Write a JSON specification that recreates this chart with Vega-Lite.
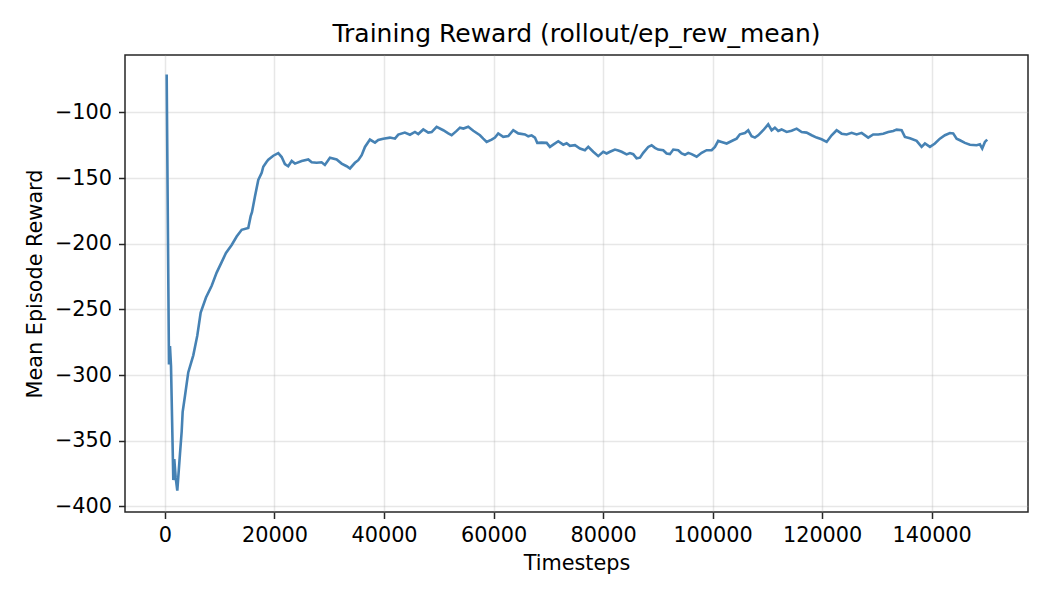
{
  "$schema": "https://vega.github.io/schema/vega-lite/v6.json",
  "autosize": "none",
  "width": 903,
  "height": 457,
  "padding": {"left": 125, "top": 55, "right": 22, "bottom": 88},
  "background": "white",
  "title": {
    "text": "Training Reward (rollout/ep_rew_mean)",
    "fontSize": 25,
    "fontWeight": "normal",
    "font": "DejaVu Sans",
    "color": "black",
    "offset": 8
  },
  "data": {
    "values": [
      {"timesteps": 310, "reward": -71.2},
      {"timesteps": 730, "reward": -292},
      {"timesteps": 910, "reward": -278},
      {"timesteps": 1100, "reward": -293},
      {"timesteps": 1520, "reward": -380},
      {"timesteps": 1700, "reward": -364},
      {"timesteps": 1950, "reward": -378},
      {"timesteps": 2250, "reward": -388},
      {"timesteps": 2740, "reward": -360},
      {"timesteps": 3050, "reward": -343},
      {"timesteps": 3230, "reward": -328},
      {"timesteps": 3650, "reward": -316},
      {"timesteps": 4250, "reward": -298},
      {"timesteps": 5170, "reward": -285},
      {"timesteps": 5900, "reward": -270},
      {"timesteps": 6520, "reward": -252.5},
      {"timesteps": 7490, "reward": -241},
      {"timesteps": 8530, "reward": -232},
      {"timesteps": 9440, "reward": -222},
      {"timesteps": 10350, "reward": -214},
      {"timesteps": 11140, "reward": -207},
      {"timesteps": 12180, "reward": -201},
      {"timesteps": 13090, "reward": -194.5},
      {"timesteps": 14010, "reward": -189.4},
      {"timesteps": 15210, "reward": -188},
      {"timesteps": 15650, "reward": -179},
      {"timesteps": 15890, "reward": -176},
      {"timesteps": 16430, "reward": -164},
      {"timesteps": 17040, "reward": -151.5},
      {"timesteps": 17660, "reward": -146},
      {"timesteps": 17950, "reward": -141.4},
      {"timesteps": 18570, "reward": -137.6},
      {"timesteps": 18870, "reward": -136},
      {"timesteps": 19780, "reward": -133},
      {"timesteps": 20690, "reward": -131},
      {"timesteps": 21310, "reward": -134},
      {"timesteps": 21900, "reward": -139.4},
      {"timesteps": 22500, "reward": -141},
      {"timesteps": 23140, "reward": -137},
      {"timesteps": 23740, "reward": -139},
      {"timesteps": 24960, "reward": -137},
      {"timesteps": 26170, "reward": -135.8},
      {"timesteps": 26790, "reward": -138},
      {"timesteps": 27700, "reward": -138.4},
      {"timesteps": 28600, "reward": -138},
      {"timesteps": 29200, "reward": -140},
      {"timesteps": 30130, "reward": -134.6},
      {"timesteps": 31350, "reward": -135.8},
      {"timesteps": 32260, "reward": -139},
      {"timesteps": 33180, "reward": -141},
      {"timesteps": 33780, "reward": -142.7},
      {"timesteps": 34690, "reward": -138.4},
      {"timesteps": 35300, "reward": -136.4},
      {"timesteps": 35920, "reward": -132.6},
      {"timesteps": 36520, "reward": -126.3},
      {"timesteps": 37430, "reward": -120.7},
      {"timesteps": 38350, "reward": -123},
      {"timesteps": 38950, "reward": -121},
      {"timesteps": 39860, "reward": -120},
      {"timesteps": 41085, "reward": -119.2},
      {"timesteps": 42000, "reward": -120},
      {"timesteps": 42600, "reward": -116.9},
      {"timesteps": 43800, "reward": -115.4},
      {"timesteps": 44740, "reward": -117},
      {"timesteps": 45650, "reward": -114.9},
      {"timesteps": 46260, "reward": -116.5},
      {"timesteps": 47170, "reward": -113},
      {"timesteps": 48080, "reward": -115.4},
      {"timesteps": 48700, "reward": -115},
      {"timesteps": 49610, "reward": -111},
      {"timesteps": 50820, "reward": -113.6},
      {"timesteps": 51730, "reward": -116},
      {"timesteps": 52350, "reward": -117.4},
      {"timesteps": 53260, "reward": -114.1},
      {"timesteps": 53870, "reward": -111.6},
      {"timesteps": 54500, "reward": -112.3},
      {"timesteps": 55380, "reward": -111},
      {"timesteps": 56300, "reward": -114},
      {"timesteps": 57520, "reward": -117.4},
      {"timesteps": 58120, "reward": -120},
      {"timesteps": 58740, "reward": -122.5},
      {"timesteps": 59650, "reward": -120.7},
      {"timesteps": 60260, "reward": -119.2},
      {"timesteps": 60860, "reward": -116},
      {"timesteps": 61770, "reward": -118.6},
      {"timesteps": 62700, "reward": -118},
      {"timesteps": 63600, "reward": -113.6},
      {"timesteps": 64510, "reward": -116},
      {"timesteps": 65740, "reward": -116.8},
      {"timesteps": 66340, "reward": -118.2},
      {"timesteps": 66960, "reward": -117.5},
      {"timesteps": 67560, "reward": -119.2},
      {"timesteps": 67980, "reward": -123.2},
      {"timesteps": 68790, "reward": -123},
      {"timesteps": 69700, "reward": -123.2},
      {"timesteps": 70300, "reward": -126.3},
      {"timesteps": 70900, "reward": -124.6},
      {"timesteps": 71820, "reward": -122},
      {"timesteps": 72730, "reward": -124.6},
      {"timesteps": 73350, "reward": -123.5},
      {"timesteps": 73950, "reward": -125.5},
      {"timesteps": 74870, "reward": -125},
      {"timesteps": 75780, "reward": -127.5},
      {"timesteps": 76690, "reward": -128.8},
      {"timesteps": 77300, "reward": -126.3},
      {"timesteps": 78210, "reward": -130},
      {"timesteps": 79120, "reward": -133.3},
      {"timesteps": 80030, "reward": -130},
      {"timesteps": 80650, "reward": -131.3},
      {"timesteps": 81260, "reward": -130},
      {"timesteps": 82170, "reward": -128.3},
      {"timesteps": 82780, "reward": -129},
      {"timesteps": 83390, "reward": -130},
      {"timesteps": 84300, "reward": -132},
      {"timesteps": 84910, "reward": -131},
      {"timesteps": 85510, "reward": -131.8},
      {"timesteps": 86130, "reward": -135},
      {"timesteps": 86740, "reward": -134.5},
      {"timesteps": 87340, "reward": -130.8},
      {"timesteps": 88250, "reward": -126.3},
      {"timesteps": 88870, "reward": -125},
      {"timesteps": 89470, "reward": -127},
      {"timesteps": 90080, "reward": -128.3},
      {"timesteps": 90990, "reward": -128.8},
      {"timesteps": 91610, "reward": -131.3},
      {"timesteps": 92210, "reward": -131.8},
      {"timesteps": 92820, "reward": -128.3},
      {"timesteps": 93730, "reward": -128.8},
      {"timesteps": 94350, "reward": -131.3},
      {"timesteps": 94950, "reward": -132.3},
      {"timesteps": 95560, "reward": -130.8},
      {"timesteps": 96170, "reward": -131.8},
      {"timesteps": 97090, "reward": -133.8},
      {"timesteps": 98000, "reward": -130.8},
      {"timesteps": 98910, "reward": -128.8},
      {"timesteps": 99830, "reward": -128.8},
      {"timesteps": 100430, "reward": -126.3},
      {"timesteps": 101030, "reward": -121.7},
      {"timesteps": 101650, "reward": -122.5},
      {"timesteps": 102570, "reward": -123.7},
      {"timesteps": 103770, "reward": -121.2},
      {"timesteps": 104390, "reward": -120},
      {"timesteps": 104990, "reward": -116.7},
      {"timesteps": 105910, "reward": -115.7},
      {"timesteps": 106510, "reward": -113.6},
      {"timesteps": 107130, "reward": -118.2},
      {"timesteps": 107730, "reward": -119.2},
      {"timesteps": 108330, "reward": -117.5},
      {"timesteps": 109250, "reward": -113.6},
      {"timesteps": 110160, "reward": -109.1},
      {"timesteps": 110780, "reward": -113.6},
      {"timesteps": 111380, "reward": -111.6},
      {"timesteps": 111990, "reward": -114.1},
      {"timesteps": 112600, "reward": -113},
      {"timesteps": 113520, "reward": -114.9},
      {"timesteps": 114430, "reward": -114},
      {"timesteps": 115350, "reward": -112.4},
      {"timesteps": 116260, "reward": -115},
      {"timesteps": 117170, "reward": -115.4},
      {"timesteps": 118090, "reward": -117.4},
      {"timesteps": 119000, "reward": -119.2},
      {"timesteps": 119910, "reward": -120.5},
      {"timesteps": 120830, "reward": -122.5},
      {"timesteps": 121740, "reward": -117.4},
      {"timesteps": 122650, "reward": -113.6},
      {"timesteps": 123570, "reward": -116.2},
      {"timesteps": 124480, "reward": -116.8},
      {"timesteps": 125390, "reward": -115.6},
      {"timesteps": 126300, "reward": -116.8},
      {"timesteps": 127220, "reward": -115.6},
      {"timesteps": 128420, "reward": -119.2},
      {"timesteps": 129330, "reward": -116.8},
      {"timesteps": 130250, "reward": -116.8},
      {"timesteps": 131160, "reward": -116.2},
      {"timesteps": 132080, "reward": -115},
      {"timesteps": 132990, "reward": -114.1},
      {"timesteps": 133610, "reward": -113.1},
      {"timesteps": 134520, "reward": -113.6},
      {"timesteps": 135120, "reward": -118.7},
      {"timesteps": 136040, "reward": -119.7},
      {"timesteps": 137260, "reward": -121.7},
      {"timesteps": 138170, "reward": -126.3},
      {"timesteps": 138780, "reward": -123.7},
      {"timesteps": 139690, "reward": -126.3},
      {"timesteps": 140600, "reward": -123.7},
      {"timesteps": 141510, "reward": -120},
      {"timesteps": 142430, "reward": -117.4},
      {"timesteps": 143340, "reward": -115.7},
      {"timesteps": 143940, "reward": -116},
      {"timesteps": 144560, "reward": -120},
      {"timesteps": 145170, "reward": -121.2},
      {"timesteps": 146080, "reward": -123.2},
      {"timesteps": 147000, "reward": -124.6},
      {"timesteps": 148220, "reward": -125},
      {"timesteps": 148820, "reward": -124.3},
      {"timesteps": 149240, "reward": -127.5},
      {"timesteps": 149730, "reward": -122.5},
      {"timesteps": 150150, "reward": -120.7}
    ]
  },
  "mark": {"type": "line", "color": "#4682b4", "strokeWidth": 2.6, "clip": true},
  "encoding": {
    "x": {
      "field": "timesteps",
      "type": "quantitative",
      "title": "Timesteps",
      "scale": {"domain": [-7300, 157600], "nice": false, "zero": false},
      "axis": {
        "values": [0, 20000, 40000, 60000, 80000, 100000, 120000, 140000],
        "format": "d",
        "titlePadding": 8
      }
    },
    "y": {
      "field": "reward",
      "type": "quantitative",
      "title": "Mean Episode Reward",
      "scale": {"domain": [-404.3, -56.3], "nice": false, "zero": false},
      "axis": {
        "values": [-400, -350, -300, -250, -200, -150, -100],
        "format": "d",
        "titlePadding": 9
      }
    }
  },
  "config": {
    "font": "DejaVu Sans",
    "view": {"stroke": "#262626", "strokeWidth": 1.5},
    "axis": {
      "domain": false,
      "grid": true,
      "gridColor": "#b0b0b0",
      "gridOpacity": 0.3,
      "gridWidth": 1.5,
      "ticks": true,
      "tickColor": "#262626",
      "tickSize": 6.5,
      "tickWidth": 1.5,
      "labelColor": "black",
      "labelFontSize": 20.8,
      "labelPadding": 7,
      "titleColor": "black",
      "titleFontSize": 20.8,
      "titleFontWeight": "normal"
    }
  }
}
